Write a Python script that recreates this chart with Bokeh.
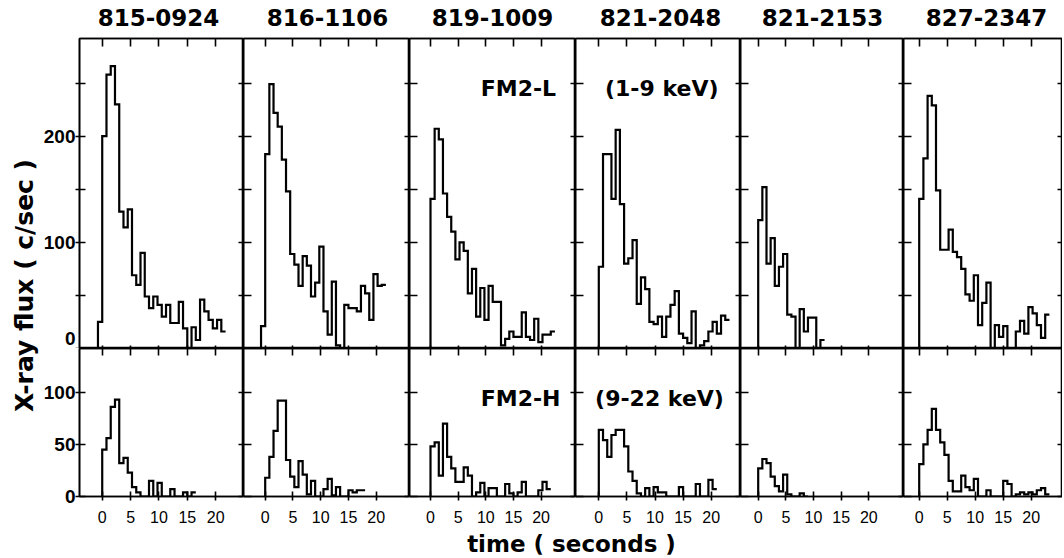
import numpy as np
from bokeh.plotting import figure
from bokeh.models import Range1d, LinearAxis, FixedTicker, Label
from bokeh.layouts import row, column
from bokeh.embed import file_html
from bokeh.resources import INLINE
from bokeh.core.properties import value

# ------------------------------------------------------------------ data
events = ["815-0924", "816-1106", "819-1009", "821-2048", "821-2153", "827-2347"]
bin_width = 0.75  # seconds per bin

# FM2-L (1-9 keV) counting rates, c/sec
low_t0 = [-0.75, -0.75, 0.0, 0.0, 0.0, 0.0]
low_815_0924 = [25, 200, 258, 266, 230, 129, 114, 131, 69, 60, 90, 49, 38, 49, 41,
                30, 41, 24, 24, 44, 19, 0, 20, 8, 46, 35, 27, 19, 27, 16]
low_816_1106 = [21, 183, 249, 222, 209, 178, 148, 89, 79, 59, 87, 78, 49, 62, 96,
                35, 13, 63, 3, 0, 41, 38, 38, 35, 59, 52, 27, 70, 59, 60]
low_819_1009 = [141, 207, 197, 146, 124, 110, 84, 100, 92, 52, 75, 30, 57, 27, 59,
                44, 44, 3, 9, 16, 11, 11, 34, 11, 8, 28, 6, 13, 13, 16]
low_821_2048 = [77, 183, 183, 141, 206, 136, 80, 85, 102, 42, 67, 56, 25, 23, 30,
                11, 30, 41, 54, 14, 10, 5, 35, 0, 3, 7, 16, 25, 14, 31, 27]
low_821_2153 = [121, 152, 80, 104, 59, 77, 89, 32, 30, 0, 37, 16, 29, 29, 0, 8]
low_827_2347 = [141, 179, 238, 229, 149, 93, 93, 112, 91, 86, 75, 51, 45, 69, 22,
                43, 62, 0, 22, 11, 21, 0, 0, 16, 26, 14, 39, 33, 22, 10, 32]
low_counts = [low_815_0924, low_816_1106, low_819_1009,
              low_821_2048, low_821_2153, low_827_2347]

# FM2-H (9-22 keV) counting rates, c/sec
high_t0 = [0.0, 0.0, 0.0, 0.0, 0.0, 0.0]
high_815_0924 = [45, 56, 86, 93, 32, 37, 23, 9, 4, 0, 0, 15, 0, 13, 0, 0, 7, 0, 0, 4, 0, 4]
high_816_1106 = [18, 38, 63, 92, 92, 35, 19, 9, 34, 21, 2, 15, 0, 0, 7, 17, 1, 9,
                 0, 0, 6, 4, 6, 6]
high_819_1009 = [48, 52, 20, 70, 38, 27, 14, 14, 28, 20, 0, 4, 13, 0, 8, 8, 0, 0,
                 12, 3, 0, 4, 14, 0, 0, 0, 6, 14, 7]
high_821_2048 = [64, 54, 38, 59, 64, 64, 48, 24, 15, 3, 0, 8, 0, 9, 4, 4, 0, 0, 0,
                 9, 0, 0, 0, 12, 0, 0, 16, 7]
high_821_2153 = [27, 36, 32, 19, 10, 5, 21, 2, 0, 0, 3, 0]
high_827_2347 = [31, 50, 64, 84, 64, 52, 40, 15, 5, 5, 20, 9, 6, 17, 0, 0, 6, 0, 0,
                 0, 15, 12, 0, 2, 4, 2, 4, 2, 6, 8, 2]
high_counts = [high_815_0924, high_816_1106, high_819_1009,
               high_821_2048, high_821_2153, high_827_2347]

x_ticks = [0, 5, 10, 15, 20]
low_y_ticks = [0, 50, 100, 150, 200, 250]
low_y_label_ticks = [9, 100, 200]
low_y_labels = {9: "0", 100: "100", 200: "200"}
high_y_ticks = [0, 50, 100]
low_y_max = 292
high_y_max = 142

# ------------------------------------------------------------------ layout
FRAME_W = [166, 166, 166, 165, 163, 159]
ZERO_OFF = [23, 21.7, 21, 23.3, 17.7, 15.7]      # px from frame left to t=0
PX_PER_S = [5.74, 5.55, 5.53, 5.62, 5.53, 5.60]
TITLE_X = [158, 327, 492, 660, 822, 986]          # centres of column headings
HEAD_H = 36
LEFT_B = 37
TOP_B = 2
TOP_FH = 310
BOT_FH = 148
BOT_B = 34
YLAB_W = 40
TIME_H = 26

BOLD = "DejaVu Sans"
SANS = "Liberation Sans"
LW = 1.6


def add_axis(p, side, ticks, t_in, t_out, labels=False, overrides=None,
             font=SANS, size="16px", style="normal", standoff=2, lines=True):
    ax = LinearAxis(ticker=FixedTicker(ticks=ticks, minor_ticks=[]),
                    major_tick_in=t_in, major_tick_out=t_out,
                    minor_tick_line_color=None,
                    axis_line_color="black" if lines else None, axis_line_width=LW,
                    major_tick_line_color="black" if lines else None,
                    major_tick_line_width=LW)
    if labels:
        ax.major_label_text_font = font
        ax.major_label_text_font_size = size
        ax.major_label_text_font_style = style
        ax.major_label_text_color = "black"
        ax.major_label_standoff = standoff
        if overrides:
            ax.major_label_overrides = overrides
    else:
        ax.major_label_text_font_size = "0px"
        ax.major_label_text_color = None
        ax.major_label_standoff = 0
    p.add_layout(ax, side)
    return ax


def make_panel(c, top):
    first = c == 0
    lb = LEFT_B if first else 0
    tb = TOP_B if top else 0
    bb = 0 if top else BOT_B
    fh = TOP_FH if top else BOT_FH
    xs = -ZERO_OFF[c] / PX_PER_S[c]
    xe = xs + FRAME_W[c] / PX_PER_S[c]
    p = figure(width=lb + FRAME_W[c], height=tb + fh + bb,
               x_range=Range1d(xs, xe),
               y_range=Range1d(0, low_y_max if top else high_y_max),
               output_backend="svg", toolbar_location=None,
               x_axis_location=None, y_axis_location=None,
               min_border_left=lb, min_border_right=0,
               min_border_top=tb, min_border_bottom=bb,
               outline_line_color="black", outline_line_width=LW,
               background_fill_color="white", border_fill_color="white")
    p.grid.visible = False

    yt = low_y_ticks if top else high_y_ticks
    if first and top:
        add_axis(p, "left", yt, 6, 4)
        add_axis(p, "left", low_y_label_ticks, 0, 0, labels=True,
                 overrides=low_y_labels, font=SANS, size="19px",
                 style="bold", standoff=0, lines=False)
    elif first:
        add_axis(p, "left", yt, 6, 4, labels=True,
                 font=SANS, size="19px", style="bold", standoff=0)
    else:
        add_axis(p, "left", yt, 8, 0)
    add_axis(p, "right", yt, 5, 0)
    add_axis(p, "above", x_ticks, 8 if top else 7, 0)
    if top:
        add_axis(p, "below", x_ticks, 3, 0)
    else:
        add_axis(p, "below", x_ticks, 5, 4, labels=True,
                 font=SANS, size="16px", style="normal", standoff=10)

    counts = low_counts[c] if top else high_counts[c]
    t0 = low_t0[c] if top else high_t0[c]
    edges = t0 + bin_width * np.arange(len(counts) + 1)
    x = np.r_[t0, edges]
    y = np.r_[0, counts, counts[-1]]
    p.step(x=x, y=y, mode="after", line_color="black", line_width=2.2,
           line_join="miter")
    return p


top_figs = [make_panel(c, True) for c in range(6)]
bot_figs = [make_panel(c, False) for c in range(6)]

lab_kw = dict(text_font=BOLD, text_font_size="22px", text_font_style="bold",
              text_color="black", text_align="center", text_baseline="middle")
top_figs[2].add_layout(Label(x=15.9, y=245, text="FM2-L", **lab_kw))
top_figs[3].add_layout(Label(x=11.2, y=245, text="(1-9 keV)", **lab_kw))
bot_figs[2].add_layout(Label(x=16.3, y=94, text="FM2-H", **lab_kw))
bot_figs[3].add_layout(Label(x=10.8, y=94, text="(9-22 keV)", **lab_kw))

total_w = YLAB_W + LEFT_B + sum(FRAME_W)


def blank(w, h):
    f = figure(width=w, height=h, x_range=Range1d(0, w), y_range=Range1d(0, h),
               output_backend="svg", toolbar_location=None,
               x_axis_location=None, y_axis_location=None,
               min_border=0, outline_line_color=None)
    f.grid.visible = False
    return f


# column headings
head = blank(total_w, HEAD_H)
head.text(x=TITLE_X, y=[HEAD_H - 17] * len(events), text=events,
          text_font=value(BOLD), text_font_size="23px", text_font_style="bold",
          text_color="black", text_align="center", text_baseline="middle")

# vertical axis title
ylab_h = TOP_B + TOP_FH + BOT_FH + BOT_B
ylab = blank(YLAB_W, ylab_h)
ylab.text(x=[24], y=[ylab_h + HEAD_H - 285], text=["X-ray flux ( c/sec )"],
          angle=np.pi / 2, text_font=value(BOLD), text_font_size="25px",
          text_font_style="bold", text_color="black",
          text_align="center", text_baseline="middle")

# horizontal axis title
tfig = blank(total_w, TIME_H)
tfig.text(x=[571], y=[13], text=["time ( seconds )"], text_font=value(BOLD),
          text_font_size="23px", text_font_style="bold", text_color="black",
          text_align="center", text_baseline="middle")

grid = column(row(*top_figs, spacing=0), row(*bot_figs, spacing=0), spacing=0)
page = column(head, row(ylab, grid, spacing=0), tfig, spacing=0)

open("out.html", "w").write(file_html(page, INLINE))
